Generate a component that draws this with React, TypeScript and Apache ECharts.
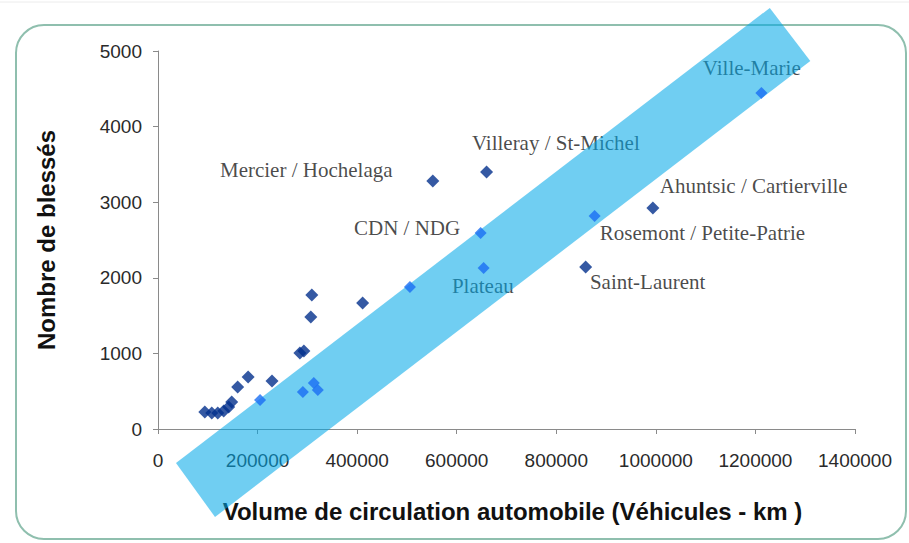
import React, { useEffect, useRef } from "react";
import * as echarts from "echarts";

// Boroughs outside the highlighted band (dark markers): [vehicle-km, injured]
const darkPoints: [number, number][] = [
  [94000, 225], [108000, 212], [120000, 212], [132000, 238], [142000, 291],
  [148000, 357], [160000, 556], [181000, 688], [229000, 635], [285000, 1005],
  [293000, 1032], [307000, 1482], [309000, 1773], [411000, 1667],
  [552000, 3281], [660000, 3400], [859000, 2143], [994000, 2924],
];

// Boroughs inside the highlighted band (light markers)
const lightPoints: [number, number][] = [
  [205000, 384], [291000, 489], [313000, 609], [321000, 516],
  [506000, 1879], [648000, 2593], [654000, 2130], [877000, 2818],
  [1212000, 4445],
];

// Borough names and where their text starts (left-middle), in data units
const labelNames: string[] = [
  "Mercier / Hochelaga", "Villeray / St-Michel", "CDN / NDG",
  "Ahuntsic / Cartierville", "Rosemont / Petite-Patrie", "Saint-Laurent",
  "Plateau", "Ville-Marie",
];
const labelAnchors: [number, number][] = [
  [124500, 3427], [630500, 3784], [393600, 2659], [1008000, 3215],
  [887500, 2593], [867500, 1945], [590400, 1892], [1094400, 4776],
];

// Corners of the highlighted trend band, in data units
const bandCorners: [number, number][] = [
  [36100, -450], [1228900, 5570], [1310200, 4869], [114500, -1164],
];

const xTicks = { min: 0, max: 1400000, interval: 200000 };
const yTicks = { min: 0, max: 5000, interval: 1000 };

const xTitle = "Volume de circulation automobile (Véhicules - km )";
const yTitle = "Nombre de blessés";

export default function App() {
  const ref = useRef<HTMLDivElement>(null);

  useEffect(() => {
    document.body.style.margin = "0";
    if (!ref.current) return;
    const chart = echarts.init(ref.current, undefined, { renderer: "svg" });
    const sans = "'Liberation Sans', Arial, sans-serif";
    const serif = "'Liberation Serif', 'Times New Roman', serif";
    const plain = (v: number) => String(v);

    chart.setOption({
      animation: false,
      backgroundColor: "#ffffff",
      graphic: [
        {
          type: "line",
          shape: { x1: 0, y1: 2, x2: 909, y2: 2 },
          style: { stroke: "#ececec", lineWidth: 1 },
          silent: true,
          z: -10,
        },
        {
          type: "rect",
          shape: { x: 16, y: 25, width: 890, height: 514, r: 28 },
          style: { fill: "none", stroke: "#8fbfae", lineWidth: 2 },
          silent: true,
          z: -10,
        },
      ],
      grid: { left: 158, top: 51, right: 54, bottom: 114, containLabel: false },
      xAxis: {
        type: "value",
        min: xTicks.min,
        max: xTicks.max,
        interval: xTicks.interval,
        name: xTitle,
        nameLocation: "middle",
        nameGap: 70,
        nameTextStyle: {
          fontFamily: sans,
          fontWeight: "bold",
          fontSize: 24,
          color: "#111",
          padding: [0, 0, 0, 12],
        },
        axisLine: { show: true, lineStyle: { color: "#8a8a8a", width: 1 } },
        axisTick: { show: true, length: 5, lineStyle: { color: "#8a8a8a" } },
        axisLabel: { fontFamily: sans, fontSize: 19, color: "#2a2a2a", margin: 22, formatter: plain },
        splitLine: { show: false },
      },
      yAxis: {
        type: "value",
        min: yTicks.min,
        max: yTicks.max,
        interval: yTicks.interval,
        name: yTitle,
        nameLocation: "middle",
        nameGap: 100,
        nameTextStyle: { fontFamily: sans, fontWeight: "bold", fontSize: 24, color: "#111" },
        axisLine: { show: true, lineStyle: { color: "#8a8a8a", width: 1 } },
        axisTick: { show: true, length: 5, lineStyle: { color: "#8a8a8a" } },
        axisLabel: { fontFamily: sans, fontSize: 19, color: "#2a2a2a", margin: 16, formatter: plain },
        splitLine: { show: false },
      },
      series: [
        {
          type: "scatter",
          name: "dark",
          symbol: "diamond",
          symbolSize: 13,
          itemStyle: { color: "#022f8c" },
          data: darkPoints,
          z: 2,
        },
        {
          type: "scatter",
          name: "labels",
          symbolSize: 0,
          silent: true,
          data: labelNames.map((n, i) => ({ name: n, value: labelAnchors[i] })),
          label: {
            show: true,
            position: "right",
            distance: 0,
            formatter: "{b}",
            fontFamily: serif,
            fontSize: 21,
            color: "#1a1a1a",
          },
          z: 3,
        },
        {
          type: "custom",
          name: "band",
          clip: false,
          silent: true,
          data: [[0, 0]],
          renderItem: (_params: any, api: any) => ({
            type: "polygon",
            shape: { points: bandCorners.map((c) => api.coord(c)) },
            style: { fill: "rgba(0,168,232,0.56)" },
          }),
          z: 5,
        },
        {
          type: "scatter",
          name: "light",
          symbol: "diamond",
          symbolSize: 12,
          itemStyle: { color: "#1a6ef2" },
          data: lightPoints,
          z: 10,
        },
      ],
    });

    return () => chart.dispose();
  }, []);

  return (
    <div
      ref={ref}
      style={{ position: "absolute", left: 0, top: 0, width: 909, height: 543 }}
    />
  );
}
